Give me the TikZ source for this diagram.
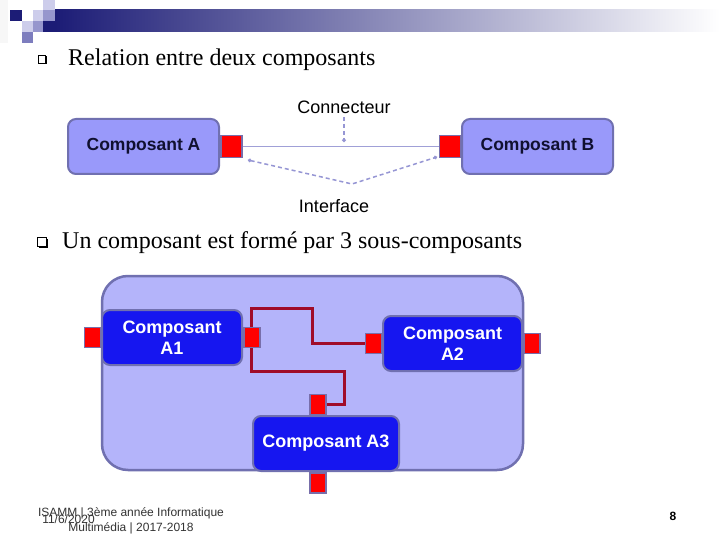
\documentclass[tikz,border=0pt]{standalone}
\usepackage{fontspec}
\setmainfont{Liberation Serif}
\setsansfont{Liberation Sans}
\usepackage{xcolor}
\usetikzlibrary{shapes,arrows.meta,positioning,calc}

\definecolor{navyc}{RGB}{28,28,118}
\definecolor{sqlight}{RGB}{205,205,235}
\definecolor{sqmid}{RGB}{150,150,205}
\definecolor{sqdark}{RGB}{125,125,190}
\definecolor{edgec}{RGB}{112,112,176}
\definecolor{cfill}{RGB}{153,153,250}
\definecolor{ctext}{RGB}{16,16,48}
\definecolor{contfill}{RGB}{180,180,250}
\definecolor{sfill}{RGB}{22,22,240}
\definecolor{portedge}{RGB}{120,110,170}
\definecolor{wirec}{RGB}{160,12,40}
\definecolor{connc}{RGB}{160,160,215}
\definecolor{dashc}{RGB}{150,150,212}

\begin{document}
\begin{tikzpicture}[x=1pt, y=-1pt,
    cbox/.style={rectangle, draw=edgec, fill=cfill, line width=2pt, rounded corners=8pt, minimum width=151pt, minimum height=55pt, font=\sffamily\bfseries\fontsize{17.5}{20}\selectfont, text=ctext},
    sbox/.style={rectangle, draw=edgec, fill=sfill, line width=2pt, rounded corners=8pt, align=center, minimum height=55pt, inner sep=2pt, font=\sffamily\bfseries\fontsize{18}{21}\selectfont, text=white},
    cont/.style={rectangle, draw=edgec, fill=contfill, line width=2.5pt, rounded corners=26pt, minimum width=421pt, minimum height=194pt},
    port/.style={rectangle, draw=portedge, fill=red, line width=1.5pt, inner sep=0pt, minimum width=16pt, minimum height=20pt},
    lbl/.style={font=\sffamily\fontsize{18}{20}\selectfont},
    conn/.style={draw=connc, line width=1.8pt},
    dline/.style={draw=dashc, line width=1.5pt, dash pattern=on 4pt off 3pt},
    wire/.style={draw=wirec, line width=3pt},
    bullettext/.style={anchor=base west, inner sep=0pt, font=\fontsize{24}{28}\selectfont}
]
    \useasboundingbox [fill=white] (0,0) rectangle (720,540);

    % header decoration
    \fill [black!3] (0,0) rectangle (8,43);
    \fill [navyc] (10,10) rectangle (22,21);
    \fill [sqlight] (43,0) rectangle (55,10);
    \fill [sqlight] (33,10) rectangle (43,21);
    \fill [sqmid] (43,10) rectangle (55,21);
    \fill [sqlight] (22,21) rectangle (33,32);
    \fill [sqmid] (33,21) rectangle (43,32);
    \fill [sqdark] (22,32) rectangle (33,43);
    \fill [navyc] (43,21) rectangle (55,32);
    \shade [left color=navyc, right color=white] (55,10) rectangle (720,32);

    % bullets
    \fill (39.5,56.5) rectangle (47,64.5);
    \filldraw [fill=white, draw=black, line width=0.8pt] (38,55) rectangle (45.5,63);
    \node [bullettext] (t1) at (68,66) {Relation entre deux composants};
    \fill (39,238.5) rectangle (48,248);
    \filldraw [fill=white, draw=black, line width=0.8pt] (37,237) rectangle (46,246);
    \node [bullettext] (t2) at (62,248) {Un composant est formé par 3 sous-composants};

    % relation entre deux composants
    \node [cbox] (cA) at (143.5,146.5) {Composant A};
    \node [cbox] (cB) at (537.5,146.5) {Composant B};
    \node [port, anchor=west, minimum width=21pt, minimum height=22pt] (pA) at (cA.east) {};
    \node [port, anchor=east, minimum width=21pt, minimum height=22pt] (pB) at (cB.west) {};
    \draw [conn] (pA) -- (pB);

    \node [lbl] (lC) at (344,107) {Connecteur};
    \coordinate (mC) at (344,142);
    \draw [dline, -{Circle[length=3.5pt]}] (lC.south) -- (mC);

    \node [lbl] (lI) at (334,206) {Interface};
    \coordinate (iA) at (248,160);
    \coordinate (iV) at (352,184);
    \coordinate (iB) at (437,157);
    \draw [dline, {Circle[length=3.5pt]}-{Circle[length=3.5pt]}] (iA) -- (iV) -- (iB);

    % sous-composants
    \node [cont] (ct) at (312.5,373) {};
    \node [sbox, minimum width=140pt] (A1) at (172,337.5) {Composant\\A1};
    \node [sbox, minimum width=139pt] (A2) at (452.5,343.5) {Composant\\A2};
    \node [sbox, minimum width=146pt] (A3) at (326,443.5) {Composant A3};

    \node [port, anchor=east] (pA1L) at (A1.west) {};
    \node [port, anchor=west] (pA1R) at (A1.east) {};
    \node [port, anchor=east] (pA2L) at (A2.west) {};
    \node [port, anchor=west] (pA2R) at (A2.east) {};
    \node [port, anchor=south] (pA3T) at ($(A3.north)+(-8,0)$) {};
    \node [port, anchor=north] (pA3B) at ($(A3.south)+(-8,0)$) {};

    \draw [wire] (pA1R.north) |- (312,308) |- (pA2L.west);
    \draw [wire] (pA1R.south) |- (344,371) |- (pA3T.east);

    % pied de page
    \node [align=center, inner sep=0pt, text=black!80, font=\sffamily\fontsize{12}{15}\selectfont] (ft) at (131,521) {ISAMM | 3ème année Informatique\\Multimédia | 2017-2018};
    \node [inner sep=0pt, text=black!80, font=\sffamily\fontsize{12}{15}\selectfont] (dt) at (68.5,519) {11/6/2020};
    \node [inner sep=0pt, font=\sffamily\bfseries\fontsize{12}{15}\selectfont] (pg) at (673,516) {8};
\end{tikzpicture}
\end{document}
